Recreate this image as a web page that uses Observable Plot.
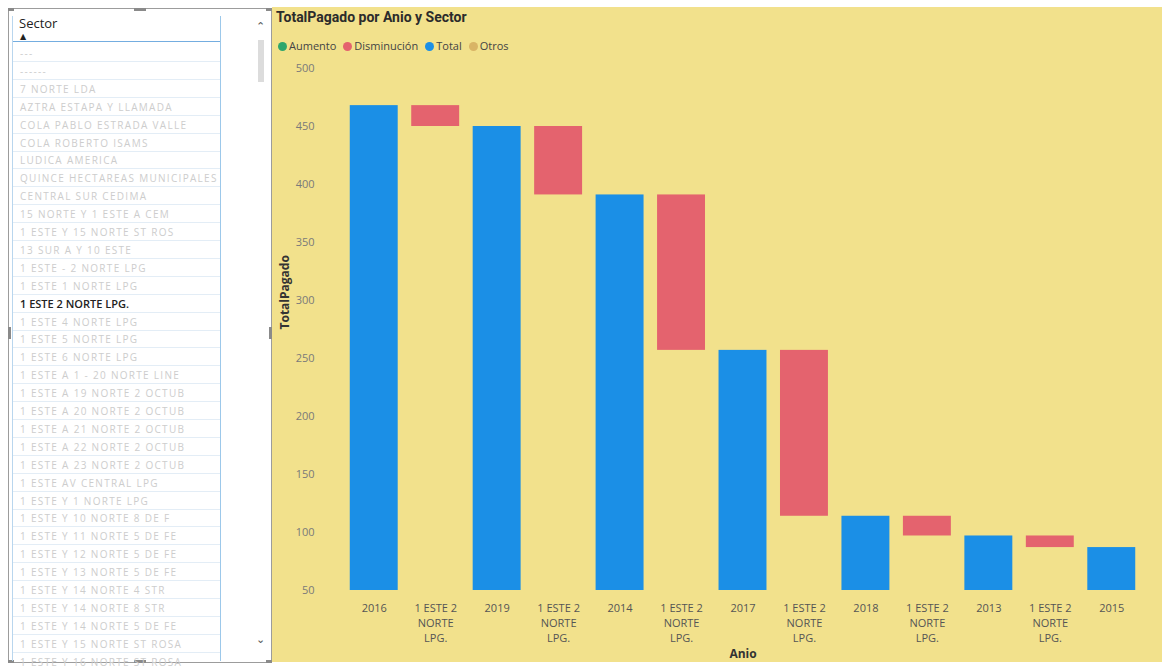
<!DOCTYPE html>
<html><head><meta charset="utf-8">
<script src="https://cdn.jsdelivr.net/npm/d3@7"></script>
<script src="https://cdn.jsdelivr.net/npm/@observablehq/plot@0.6"></script>
<style>
html,body{margin:0;padding:0;background:#fff;width:1162px;height:666px;overflow:hidden;font-family:"Open Sans","DejaVu Sans",sans-serif;}
#slicer{position:absolute;left:8px;top:8px;width:264px;height:655px;border:1px solid #9c9c9c;box-sizing:border-box;background:#fff;}
#inner{position:absolute;left:3px;top:7px;width:207px;height:645px;border-left:1px solid #b9d6ee;border-right:1px solid #9cc8ea;}
#hdr{position:absolute;left:6px;top:0px;font-size:13px;line-height:15px;color:#222;}
#arrow{position:absolute;left:7px;top:16px;font-size:8px;line-height:8px;color:#222;}
#uline{position:absolute;left:0;top:25px;width:207px;height:0;border-top:1.5px solid #74ade0;}
.row{position:absolute;left:0;width:207px;height:18px;border-bottom:1px solid #e3edf6;box-sizing:border-box;font-size:10px;line-height:18px;color:#cdcdcd;letter-spacing:1.3px;white-space:nowrap;overflow:hidden;padding-left:7px;}
.row.sel{color:#222;font-weight:600;font-size:11px;letter-spacing:0;}
.selmark{position:absolute;right:-2px;top:2px;width:2px;height:14px;background:#5aa6e6;}
#sbup{position:absolute;left:247px;top:9px;font-size:11px;color:#555;}
#sbthumb{position:absolute;left:249px;top:31px;width:6px;height:42px;background:#dcdcdc;}
#sbdn{position:absolute;left:247px;top:622px;font-size:11px;color:#555;}
.handle{position:absolute;background:#8a8a8a;}
#panel{position:absolute;left:272px;top:7px;width:890px;height:655px;background:#F2E18C;}
#title{position:absolute;left:4px;top:2px;font-family:Roboto,"Open Sans",sans-serif;font-weight:700;font-size:14px;color:#2b2b2b;}
#legend{position:absolute;left:6px;top:31px;font-size:11px;color:#444;display:flex;gap:7px;}
#legend span.dot{display:inline-block;width:9px;height:9px;border-radius:50%;margin-right:2px;vertical-align:-1px;}
#chart{position:absolute;left:0;top:49px;}
</style></head>
<body>
<div id="slicer">
  <div class="handle" style="left:-1px;top:-1px;width:6px;height:3px"></div>
  <div class="handle" style="right:-1px;top:-1px;width:6px;height:3px"></div>
  <div class="handle" style="left:125px;top:-1px;width:12px;height:3px"></div>
  <div class="handle" style="left:-1px;top:318px;width:3px;height:12px"></div>
  <div class="handle" style="right:-1px;top:318px;width:3px;height:12px"></div>
  <div class="handle" style="left:-1px;bottom:-1px;width:6px;height:3px"></div>
  <div class="handle" style="right:-1px;bottom:-1px;width:6px;height:3px"></div>
  <div class="handle" style="left:125px;bottom:-1px;width:12px;height:3px"></div>
  <div id="inner">
    <div id="hdr">Sector</div>
    <div id="arrow">▲</div>
    <div id="uline"></div>
    <div id="rows"></div>
  </div>
  <div id="sbup">&#8963;</div>
  <div id="sbthumb"></div>
  <div id="sbdn">&#8964;</div>
</div>
<div id="panel">
  <div id="title">TotalPagado por Anio y Sector</div>
  <div id="legend"></div>
  <div id="chart"></div>
</div>
<script>
// ---- data ----
const sectors = [
  "---", "------", "7 NORTE LDA", "AZTRA ESTAPA Y LLAMADA", "COLA PABLO ESTRADA VALLE",
  "COLA ROBERTO ISAMS", "LUDICA AMERICA", "QUINCE HECTAREAS MUNICIPALES", "CENTRAL SUR CEDIMA",
  "15 NORTE Y 1 ESTE A CEM", "1 ESTE Y 15 NORTE ST ROS", "13 SUR A Y 10 ESTE",
  "1 ESTE - 2 NORTE LPG", "1 ESTE 1 NORTE LPG", "1 ESTE 2 NORTE LPG.", "1 ESTE 4 NORTE LPG",
  "1 ESTE 5 NORTE LPG", "1 ESTE 6 NORTE LPG", "1 ESTE A 1 - 20 NORTE LINE",
  "1 ESTE A 19 NORTE 2 OCTUB", "1 ESTE A 20 NORTE 2 OCTUB", "1 ESTE A 21 NORTE 2 OCTUB",
  "1 ESTE A 22 NORTE 2 OCTUB", "1 ESTE A 23 NORTE 2 OCTUB", "1 ESTE AV CENTRAL LPG",
  "1 ESTE Y 1 NORTE LPG", "1 ESTE Y 10 NORTE 8 DE F", "1 ESTE Y 11 NORTE 5 DE FE",
  "1 ESTE Y 12 NORTE 5 DE FE", "1 ESTE Y 13 NORTE 5 DE FE", "1 ESTE Y 14 NORTE 4 STR",
  "1 ESTE Y 14 NORTE 8 STR", "1 ESTE Y 14 NORTE 5 DE FE", "1 ESTE Y 15 NORTE ST ROSA",
  "1 ESTE Y 16 NORTE ST ROSA"
];
const selectedSector = "1 ESTE 2 NORTE LPG.";
const years = ["2016", "2019", "2014", "2017", "2018", "2013", "2015"];
const totals = [468, 450, 391, 257, 114, 97, 87];
const yTicks = [50, 100, 150, 200, 250, 300, 350, 400, 450, 500];
const legendItems = ["Aumento", "Disminución", "Total", "Otros"];
const legendColors = ["#2fa66c", "#e4636e", "#1b8fe6", "#d9b466"];

// ---- slicer ----
const rowsDiv = document.getElementById("rows");
sectors.forEach((s, i) => {
  const d = document.createElement("div");
  d.className = "row" + (s === selectedSector ? " sel" : "");
  d.style.top = (28 + i * 17.9) + "px";
  d.textContent = s;
  if (s === selectedSector) { const m = document.createElement("div"); m.className = "selmark"; d.appendChild(m); }
  rowsDiv.appendChild(d);
});

// ---- legend ----
const lg = document.getElementById("legend");
legendItems.forEach((t, i) => {
  const s = document.createElement("span");
  s.innerHTML = `<span class="dot" style="background:${legendColors[i]}"></span>${t}`;
  lg.appendChild(s);
});

// ---- waterfall rows ----
function wrap(label, maxChars) {
  const words = label.split(" "); const lines = []; let cur = "";
  for (const w of words) {
    if (cur && (cur + " " + w).length > maxChars) { lines.push(cur); cur = w; }
    else cur = cur ? cur + " " + w : w;
  }
  if (cur) lines.push(cur);
  return lines.join("\n");
}
const rows = [];
years.forEach((yr, i) => {
  rows.push({key: String(rows.length), label: yr, type: "Total", y1: 0, y2: totals[i]});
  if (i < years.length - 1) {
    rows.push({key: String(rows.length), label: wrap(selectedSector, 8), type: "Disminución", y1: totals[i + 1], y2: totals[i]});
  }
});

const chart = Plot.plot({
  width: 890, height: 606,
  marginLeft: 71, marginRight: 20, marginTop: 12, marginBottom: 72,
  style: {background: "transparent", fontFamily: "'Open Sans', sans-serif", fontSize: "11px", color: "#777", overflow: "visible"},
  x: {domain: rows.map(d => d.key), paddingInner: 0.22, paddingOuter: 0.11, round: false, axis: null},
  y: {domain: [50, 500], axis: null},
  color: {domain: legendItems, range: legendColors},
  marks: [
    Plot.barY(rows, {x: "key", y1: "y1", y2: "y2", fill: "type", clip: true}),
    Plot.axisY(yTicks, {tickSize: 0, tickPadding: 29, label: null, fill: "#7a7a7a"}),
    Plot.axisX({tickSize: 0, tickPadding: 11, label: null, lineHeight: 1.36, fill: "#555",
      tickFormat: k => rows[+k].label}),
    Plot.text(["TotalPagado"], {frameAnchor: "left", dx: -58, rotate: -90, fontWeight: "bold", fontSize: 12, fill: "#333"}),
    Plot.text(["Anio"], {frameAnchor: "bottom", dy: 67, fontWeight: "bold", fontSize: 12, fill: "#333"})
  ]
});
document.getElementById("chart").appendChild(chart);
</script>
</body></html>
